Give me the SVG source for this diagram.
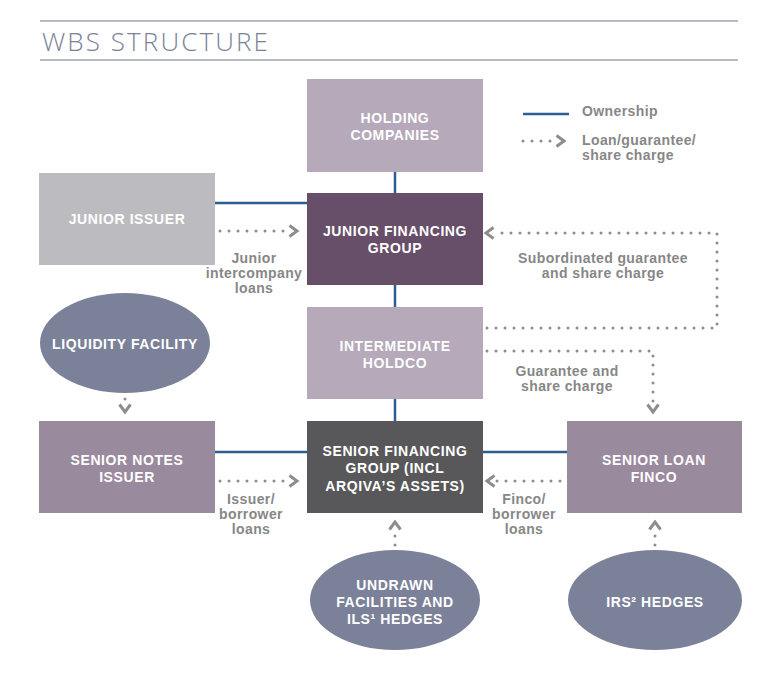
<svg xmlns="http://www.w3.org/2000/svg" width="780" height="674" viewBox="0 0 780 674">
<style>
.bt{font-family:"Liberation Sans",Arial,sans-serif;font-weight:700;font-size:14px;letter-spacing:0.6px;fill:#ffffff;text-anchor:middle}
.lb{font-family:"Liberation Sans",Arial,sans-serif;font-weight:700;font-size:14px;letter-spacing:0.4px;fill:#878787;text-anchor:middle}
.lg{font-family:"Liberation Sans",Arial,sans-serif;font-weight:700;font-size:14px;letter-spacing:0.4px;fill:#878787}
.own{stroke:#2f5d91;stroke-width:2.5;fill:none}
.dot{stroke:#8d8d8d;stroke-width:3;stroke-linecap:round;stroke-dasharray:0 9;fill:none;marker-end:url(#chev)}
.rule{stroke:#9ea3b3;stroke-width:1.5}
</style>
<defs>
<marker id="chev" markerUnits="userSpaceOnUse" markerWidth="14" markerHeight="16" refX="1" refY="7" orient="auto" viewBox="0 0 14 16">
<path d="M1.5,1.5 L9,7 L1.5,12.5" fill="none" stroke="#8d8d8d" stroke-width="3" stroke-linejoin="miter"/>
</marker>
</defs>
<rect width="780" height="674" fill="#ffffff"/>
<g id="title">
<line class="rule" x1="40" y1="21" x2="738" y2="21"/>
<line class="rule" x1="40" y1="60" x2="738" y2="60"/>
<text x="42" y="51" font-family="'Open Sans','Liberation Sans',sans-serif" font-weight="300" font-size="26" letter-spacing="2.1" fill="#7a8199">WBS STRUCTURE</text>
</g>
<g id="legend">
<line class="own" x1="523" y1="114" x2="569" y2="114"/>
<path class="dot" d="M523,141 H556"/>
<text class="lg" x="582" y="116">Ownership</text>
<text class="lg" x="582" y="145">Loan/guarantee/</text>
<text class="lg" x="582" y="160">share charge</text>
</g>
<g id="connectors">
<line class="own" x1="395" y1="172" x2="395" y2="193"/>
<line class="own" x1="395" y1="285" x2="395" y2="307"/>
<line class="own" x1="395" y1="399" x2="395" y2="421"/>
<line class="own" x1="215" y1="203" x2="307" y2="203"/>
<line class="own" x1="215" y1="452" x2="307" y2="452"/>
<line class="own" x1="483" y1="452" x2="567" y2="452"/>
<path class="dot" d="M220,231 H289"/>
<path class="dot" d="M487,328 H717 V233 H494"/>
<path class="dot" d="M487,351 H653 V404"/>
<path class="dot" d="M125,399 V404"/>
<path class="dot" d="M220,481 H289"/>
<path class="dot" d="M560,481 H495"/>
<path class="dot" d="M395,545 V530"/>
<path class="dot" d="M655,545 V530"/>
<text class="lb" x="254" y="263">Junior</text>
<text class="lb" x="254" y="278">intercompany</text>
<text class="lb" x="254" y="293">loans</text>
<text class="lb" x="603" y="263">Subordinated guarantee</text>
<text class="lb" x="603" y="278">and share charge</text>
<text class="lb" x="567" y="376">Guarantee and</text>
<text class="lb" x="567" y="391">share charge</text>
<text class="lb" x="251" y="504">Issuer/</text>
<text class="lb" x="251" y="519">borrower</text>
<text class="lb" x="251" y="534">loans</text>
<text class="lb" x="524" y="504">Finco/</text>
<text class="lb" x="524" y="519">borrower</text>
<text class="lb" x="524" y="534">loans</text>
</g>
<g id="holding-companies">
<rect x="307" y="79" width="176" height="93" fill="#b5a9ba"/>
<text class="bt" x="395" y="123">HOLDING</text>
<text class="bt" x="395" y="140">COMPANIES</text>
</g>
<g id="junior-financing-group">
<rect x="307" y="193" width="176" height="92" fill="#674f69"/>
<text class="bt" x="395" y="236">JUNIOR FINANCING</text>
<text class="bt" x="395" y="253">GROUP</text>
</g>
<g id="intermediate-holdco">
<rect x="307" y="307" width="176" height="92" fill="#b5a9ba"/>
<text class="bt" x="395" y="351">INTERMEDIATE</text>
<text class="bt" x="395" y="368">HOLDCO</text>
</g>
<g id="senior-financing-group">
<rect x="307" y="421" width="176" height="92" fill="#58585a"/>
<text class="bt" x="395" y="456">SENIOR FINANCING</text>
<text class="bt" x="395" y="473">GROUP (INCL</text>
<text class="bt" x="395" y="491">ARQIVA’S ASSETS)</text>
</g>
<g id="junior-issuer">
<rect x="39" y="173" width="176" height="92" fill="#bcbcc0"/>
<text class="bt" x="127" y="224">JUNIOR ISSUER</text>
</g>
<g id="senior-notes-issuer">
<rect x="39" y="421" width="176" height="92" fill="#9a8a9e"/>
<text class="bt" x="127" y="465">SENIOR NOTES</text>
<text class="bt" x="127" y="482">ISSUER</text>
</g>
<g id="senior-loan-finco">
<rect x="567" y="421" width="175" height="92" fill="#9a8a9e"/>
<text class="bt" x="654" y="465">SENIOR LOAN</text>
<text class="bt" x="654" y="482">FINCO</text>
</g>
<g id="liquidity-facility">
<ellipse cx="125" cy="343" rx="85" ry="50" fill="#7b8199"/>
<text class="bt" x="125" y="349">LIQUIDITY FACILITY</text>
</g>
<g id="undrawn-facilities">
<ellipse cx="395" cy="600" rx="85" ry="50" fill="#7b8199"/>
<text class="bt" x="395" y="590">UNDRAWN</text>
<text class="bt" x="395" y="607">FACILITIES AND</text>
<text class="bt" x="395" y="624">ILS¹ HEDGES</text>
</g>
<g id="irs-hedges">
<ellipse cx="655" cy="600" rx="87" ry="50" fill="#7b8199"/>
<text class="bt" x="655" y="607">IRS² HEDGES</text>
</g>
</svg>
